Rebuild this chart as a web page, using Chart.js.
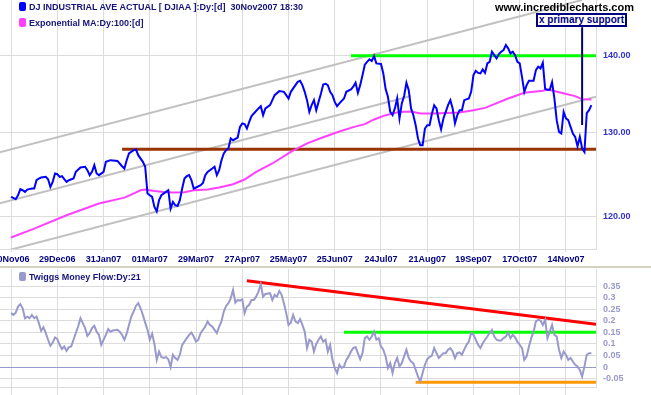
<!DOCTYPE html>
<html>
<head>
<meta charset="utf-8">
<script src="https://cdn.jsdelivr.net/npm/chart.js"></script>
<style>
  body { margin: 0; background: #fff; }
  #wrap { position: relative; width: 651px; height: 395px; overflow: hidden; font-family: 'Liberation Sans', Arial, sans-serif; }
  canvas { position: absolute; left: 0; }
  #priceChart { top: 0; }
  #tmfChart { top: 268px; }
  #sep { position: absolute; left: 0; top: 266px; width: 651px; height: 2px; background: #d6d2c2; }
  .legend { position: absolute; left: 19px; height: 12px; line-height: 12px; font-size: 9px; font-weight: bold; color: #14147a; white-space: nowrap; }
  .legend i { display: inline-block; width: 7px; height: 9px; border-radius: 2px; vertical-align: -1px; margin-right: 3px; }
  #site { position: absolute; left: 495px; top: 1px; font-size: 11px; font-weight: bold; line-height: 12px; color: #000; }
  #note { position: absolute; left: 536px; top: 13px; width: 87px; height: 10px; border: 2px solid #000080; background: #fff;
          font-size: 10px; font-weight: bold; line-height: 10px; color: #000080; text-align: center; white-space: nowrap; }
</style>
</head>
<body>
<div id="wrap">
  <canvas id="priceChart" width="651" height="266"></canvas>
  <div id="sep"></div>
  <canvas id="tmfChart" width="651" height="127"></canvas>
  <div class="legend" style="top:1px"><i style="background:#0000ff"></i>DJ INDUSTRIAL AVE ACTUAL [ DJIAA ]:Dy:[d]&nbsp; 30Nov2007 18:30</div>
  <div class="legend" style="top:17px"><i style="background:#ff40ff"></i>Exponential MA:Dy:100:[d]</div>
  <div class="legend" style="top:271px"><i style="background:#9999cc"></i>Twiggs Money Flow:Dy:21</div>
  <div id="site">www.incrediblecharts.com</div>
  <div id="note">x primary support</div>
</div>
<script>
// trading day number (0 = 30Nov06) and value
const tickDays = [0, 20, 40, 60, 80, 100, 120, 140, 160, 180, 200, 220, 240];
const dateTicks = ['30Nov06', '29Dec06', '31Jan07', '01Mar07', '29Mar07', '27Apr07', '25May07', '25Jun07', '24Jul07', '21Aug07', '19Sep07', '17Oct07', '14Nov07'];
const priceTicks = [120, 130, 140];
const tmfTicks = [-0.05, 0, 0.05, 0.1, 0.15, 0.2, 0.25, 0.3, 0.35];

// DJIA close / 100
const djiaClose = [
  [0,122.26],[2,121.99],[3,122.46],[4,123.17],[5,123.05],[6,122.85],[7,123.13],[9,123.25],[10,123.25],[11,124.24],
  [12,124.44],[13,124.56],[15,124.64],[16,124.36],[17,123.44],[18,124.04],[19,125.04],[20,124.96],[21,124.64],[22,124.72],
  [23,124.36],[24,124.04],[25,124.24],[27,124.44],[28,125.24],[30,125.77],[32,125.85],[33,125.44],[34,124.84],[35,125.24],
  [36,126.04],[37,125.04],[38,124.84],[40,125.24],[41,126.45],[43,126.65],[46,126.56],[48,125.92],[49,125.64],[50,126.65],
  [51,127.47],[53,127.87],[54,127.96],[55,127.26],[57,126.45],[58,125.85],[59,122.66],[60,122.46],[61,122.26],[62,121.10],
  [63,120.59],[64,121.88],[65,122.46],[67,122.85],[68,123.05],[69,120.90],[70,121.68],[71,121.29],[72,121.21],[73,121.88],
  [74,123.25],[75,124.44],[76,124.72],[77,124.84],[78,124.24],[79,123.25],[80,123.37],[82,123.64],[83,123.92],[84,124.84],
  [85,125.24],[87,125.64],[88,125.85],[89,124.84],[90,125.44],[91,126.65],[92,127.47],[93,127.87],[94,128.08],[95,129.31],
  [96,129.10],[98,129.43],[99,130.77],[100,131.20],[101,131.11],[102,130.56],[103,131.40],[104,132.12],[105,132.46],[107,133.10],
  [108,133.39],[109,132.24],[110,133.10],[112,133.52],[113,134.16],[114,134.81],[116,135.33],[118,135.24],[119,134.81],[120,134.38],
  [121,135.24],[123,136.11],[124,136.55],[125,136.68],[126,136.11],[127,135.24],[128,134.16],[129,132.66],[130,133.52],[131,134.16],
  [132,132.88],[133,133.94],[134,135.00],[135,136.20],[136,136.29],[137,136.11],[138,135.24],[139,134.81],[140,133.94],[141,133.39],
  [142,133.74],[144,134.38],[145,135.24],[147,135.56],[148,135.90],[149,136.42],[150,135.10],[151,136.11],[152,137.40],[153,138.80],
  [154,139.19],[155,139.52],[156,139.29],[157,139.96],[158,138.98],[160,138.90],[161,137.65],[162,135.60],[163,134.60],[164,132.66],
  [165,132.24],[166,133.10],[167,134.38],[168,131.83],[169,133.74],[170,134.70],[171,136.42],[172,135.46],[173,133.10],[174,132.24],
  [175,130.98],[176,129.31],[177,128.48],[178,128.48],[179,130.56],[180,130.98],[181,130.98],[182,132.40],[183,133.50],[184,133.10],
  [185,131.61],[186,130.45],[187,131.83],[188,132.66],[189,133.52],[190,134.16],[191,133.10],[192,131.20],[193,132.24],[194,132.88],
  [195,132.88],[196,134.16],[198,134.38],[199,135.24],[200,137.43],[201,137.99],[202,137.72],[203,137.65],[204,138.17],[205,137.72],
  [206,138.98],[207,139.19],[208,140.54],[209,140.09],[210,139.65],[211,140.23],[212,140.54],[213,140.77],[214,141.45],[215,141.00],
  [216,140.32],[217,140.54],[218,140.09],[219,139.19],[220,138.98],[221,137.17],[222,135.24],[223,136.11],[224,136.68],[226,136.68],
  [227,138.09],[228,138.53],[229,138.31],[230,139.06],[231,135.63],[232,135.50],[233,135.50],[234,136.51],[235,134.40],[236,131.61],
  [237,130.14],[238,129.93],[239,132.66],[240,131.83],[241,131.61],[242,130.77],[243,129.93],[244,129.52],[245,128.36],[246,129.52],
  [247,128.08],[248,127.66],[249,132.50],[250,132.88],[251,133.52]
];

// 100 day exponential MA
const emaClose = [
  [0,117.59],[10,118.60],[24,120.13],[38,121.49],[49,122.18],[52,122.54],[56,123.05],[58,123.13],[62,122.97],[66,122.85],
  [70,122.78],[75,122.82],[79,123.05],[85,123.13],[90,123.37],[96,123.76],[101,124.32],[106,125.24],[113,126.25],[121,127.67],
  [128,128.72],[135,129.47],[142,130.18],[148,130.73],[153,131.11],[157,131.70],[162,132.24],[168,132.66],[173,132.71],[177,132.45],
  [183,132.45],[188,132.53],[194,132.58],[200,132.88],[205,133.17],[208,133.52],[215,134.38],[222,135.11],[230,135.37],[232,135.55],
  [238,135.11],[244,134.68],[247,134.29],[251,134.25]
];

// Twiggs Money Flow 21
const tmfValues = [
  [0,0.233],[1,0.225],[2,0.235],[3,0.261],[4,0.272],[5,0.254],[6,0.211],[7,0.218],[8,0.211],[9,0.225],[10,0.211],[11,0.218],
  [12,0.19],[13,0.156],[14,0.172],[15,0.147],[16,0.118],[17,0.092],[18,0.106],[19,0.128],[20,0.121],[21,0.096],[22,0.078],
  [23,0.089],[24,0.070],[25,0.086],[26,0.089],[27,0.118],[28,0.147],[29,0.175],[30,0.211],[31,0.190],[32,0.168],[33,0.135],
  [34,0.147],[35,0.168],[36,0.178],[37,0.153],[38,0.139],[39,0.096],[40,0.118],[41,0.139],[42,0.164],[43,0.153],[44,0.158],
  [46,0.161],[47,0.153],[48,0.139],[49,0.118],[50,0.144],[51,0.182],[52,0.218],[53,0.240],[54,0.264],[55,0.276],[56,0.254],
  [57,0.225],[58,0.192],[59,0.161],[60,0.118],[61,0.144],[62,0.10],[63,0.031],[64,0.067],[65,0.043],[66,0.039],[67,0.043],
  [68,0.034],[69,0.000],[70,0.053],[71,0.039],[72,0.031],[73,0.053],[74,0.096],[76,0.125],[77,0.139],[78,0.149],[79,0.132],
  [80,0.110],[81,0.118],[82,0.147],[84,0.175],[85,0.197],[86,0.182],[87,0.175],[89,0.147],[90,0.175],[91,0.197],[92,0.240],
  [93,0.264],[94,0.276],[95,0.297],[96,0.333],[97,0.278],[98,0.290],[99,0.287],[100,0.293],[101,0.233],[102,0.261],[103,0.269],
  [104,0.290],[105,0.290],[106,0.304],[107,0.326],[108,0.359],[109,0.304],[110,0.316],[112,0.319],[113,0.290],[114,0.312],
  [115,0.304],[116,0.329],[117,0.312],[118,0.276],[119,0.233],[120,0.182],[121,0.192],[122,0.225],[123,0.197],[124,0.190],
  [125,0.207],[126,0.182],[127,0.153],[128,0.082],[129,0.118],[130,0.110],[131,0.067],[132,0.100],[133,0.118],[134,0.132],
  [135,0.110],[136,0.118],[137,0.067],[138,0.096],[139,0.031],[140,-0.004],[141,-0.026],[142,0.010],[143,-0.004],[144,0.003],
  [145,0.031],[146,0.046],[147,0.067],[148,0.082],[149,0.086],[151,0.034],[152,0.060],[153,0.125],[154,0.132],[155,0.118],
  [156,0.132],[157,0.153],[158,0.118],[159,0.125],[160,0.089],[161,0.075],[162,0.046],[163,-0.004],[164,0.017],[165,-0.026],
  [166,0.017],[167,0.039],[168,0.003],[169,0.017],[170,0.046],[171,0.075],[172,0.039],[173,0.024],[174,0.017],[175,-0.012],
  [176,-0.041],[177,-0.062],[178,-0.026],[179,0.010],[180,0.034],[181,0.043],[182,0.049],[183,0.082],[184,0.060],[185,0.039],
  [187,0.060],[188,0.060],[189,0.075],[190,0.082],[191,0.067],[192,0.039],[193,0.060],[194,0.063],[195,0.053],[196,0.075],
  [197,0.096],[198,0.110],[199,0.147],[200,0.139],[201,0.118],[202,0.096],[203,0.082],[204,0.103],[205,0.118],[206,0.132],
  [207,0.147],[208,0.161],[209,0.132],[210,0.118],[211,0.115],[212,0.115],[213,0.125],[214,0.132],[215,0.149],[216,0.125],
  [217,0.139],[218,0.128],[219,0.110],[220,0.096],[221,0.082],[222,0.031],[223,0.046],[224,0.089],[225,0.125],[226,0.153],
  [227,0.197],[228,0.204],[229,0.201],[230,0.182],[231,0.204],[232,0.125],[233,0.153],[234,0.182],[235,0.139],[236,0.132],
  [237,0.075],[238,0.039],[239,0.067],[240,0.053],[241,0.031],[242,0.039],[243,0.024],[244,0.010],[245,0.003],[246,-0.012],
  [247,-0.041],[248,0.003],[249,0.053],[250,0.060],[251,0.060]
];

// hand drawn trend lines [day, value]
const channelUpper = [[-5, 127.6], [247, 147.7]];
const channelMid = [[-5, 121.5], [173, 134.7]];
const channelLow = [[-5, 115.9], [253, 134.6]];
const resistance = [[147, 140.0], [253, 140.0]];
const support = [[48, 128.0], [253, 128.0]];
const primarySupport = [[247, 143.9], [247, 131.0]];
const tmfDownTrend = [[102, 0.373], [253, 0.185]];
const tmfResistance = [[144, 0.15], [253, 0.15]];
const tmfSupport = [[175, -0.066], [253, -0.066]];

const fonte = { family: "'Liberation Sans', Arial, sans-serif", size: 9, weight: 'bold' };
const gridCor = '#dcdcdc';

function linha(pontos, cor, largura, ordem) {
  return {
    data: pontos.map(p => ({ x: p[0], y: p[1] })),
    borderColor: cor,
    borderWidth: largura,
    pointRadius: 0,
    tension: 0,
    fill: false,
    order: ordem
  };
}

function eixoX(mostrarLabels, altura, tickLen) {
  return {
    type: 'linear',
    min: -4.8,
    max: 253,
    afterBuildTicks: s => { s.ticks = tickDays.map(v => ({ value: v })); },
    afterFit: s => { s.height = altura; s.paddingLeft = 0; s.paddingRight = 0; },
    ticks: {
      display: mostrarLabels,
      autoSkip: false, maxRotation: 0, minRotation: 0,
      color: '#000080', font: fonte, padding: 2,
      callback: (v, i) => dateTicks[i]
    },
    grid: { color: gridCor, tickLength: tickLen },
    border: { color: gridCor }
  };
}

new Chart(document.getElementById('priceChart'), {
  type: 'line',
  data: {
    datasets: [
      linha(primarySupport, '#000080', 2, 0),
      linha(djiaClose, '#0000ff', 2, 1),
      linha(emaClose, '#ff40ff', 2, 2),
      linha(resistance, '#00ff00', 3, 3),
      linha(support, '#993300', 3, 4),
      linha(channelUpper, '#c0c0c0', 2, 5),
      linha(channelMid, '#c0c0c0', 2, 5),
      linha(channelLow, '#c0c0c0', 2, 5)
    ]
  },
  options: {
    responsive: false,
    animation: false,
    layout: { padding: 0 },
    plugins: { legend: { display: false }, tooltip: { enabled: false } },
    scales: {
      x: eixoX(true, 17, 3),
      y: {
        type: 'logarithmic',
        position: 'right',
        min: 116.3,
        max: 147.7,
        afterBuildTicks: s => { s.ticks = priceTicks.map(v => ({ value: v })); },
        afterFit: s => { s.width = 55; s.paddingTop = 0; s.paddingBottom = 0; },
        ticks: { color: '#3333cc', font: fonte, padding: 7, callback: v => Number(v).toFixed(2) },
        grid: { color: gridCor, drawTicks: false },
        border: { color: gridCor }
      }
    }
  }
});

new Chart(document.getElementById('tmfChart'), {
  type: 'line',
  data: {
    datasets: [
      linha(tmfValues, '#9999cc', 2, 0),
      linha(tmfDownTrend, '#ff0000', 3, 1),
      linha(tmfResistance, '#00ff00', 3, 1),
      linha(tmfSupport, '#ff9900', 3, 1)
    ]
  },
  options: {
    responsive: false,
    animation: false,
    layout: { padding: { top: 1, left: 0, right: 0, bottom: 0 } },
    plugins: { legend: { display: false }, tooltip: { enabled: false } },
    scales: {
      x: eixoX(false, 8, 8),
      y: {
        type: 'linear',
        position: 'right',
        min: -0.0862,
        max: 0.4237,
        afterBuildTicks: s => { s.ticks = tmfTicks.map(v => ({ value: v })); },
        afterFit: s => { s.width = 55; s.paddingTop = 0; s.paddingBottom = 0; },
        ticks: { color: '#9999cc', font: fonte, padding: 7, callback: v => String(Number(Number(v).toFixed(2))) },
        grid: { color: c => (c.tick && c.tick.value === 0 ? '#9999cc' : gridCor), drawTicks: false },
        border: { color: gridCor }
      }
    }
  }
});
</script>
</body>
</html>
